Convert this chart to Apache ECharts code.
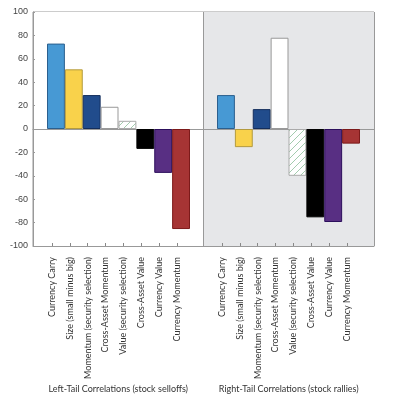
<!DOCTYPE html>
<html>
<head>
<meta charset="utf-8">
<script src="https://cdn.jsdelivr.net/npm/echarts@6/dist/echarts.min.js"></script>
<style>
  html, body { margin: 0; padding: 0; background: #fff; }
  #chart { width: 399px; height: 400px; }
</style>
</head>
<body>
<div id="chart"></div>
<script>
var factors = ['Currency Carry', 'Size (small minus big)', 'Momentum (security selection)', 'Cross-Asset Momentum',
  'Value (security selection)', 'Cross-Asset Value', 'Currency Value', 'Currency Momentum'];
var groups = ['Left-Tail Correlations (stock selloffs)', 'Right-Tail Correlations (stock rallies)'];
var leftTail = [73, 51, 29, 19, 7, -17, -37.5, -85.5];
var rightTail = [29, -15.5, 17, 78, -40, -75.5, -79.5, -12.5];
var yMin = -100, yMax = 100, yStep = 20;

// hatch fill for "Value (security selection)"
var hatch = document.createElement('canvas');
hatch.width = 7; hatch.height = 7;
var hc = hatch.getContext('2d');
hc.fillStyle = '#ffffff';
hc.fillRect(0, 0, 7, 7);
hc.strokeStyle = '#a3ccae';
hc.lineWidth = 1;
hc.beginPath();
hc.moveTo(0, 7); hc.lineTo(7, 0);
hc.moveTo(-1, 1); hc.lineTo(1, -1);
hc.moveTo(6, 8); hc.lineTo(8, 6);
hc.stroke();

var fills = ['#4799d4', '#f9d24b', '#214c8c', '#ffffff', {image: hatch, repeat: 'repeat'}, '#000000', '#582f83', '#a63434'];
var borders = ['#2b5f8e', '#b39a3e', '#142e5c', '#999999', '#aaaaaa', '#000000', '#2c0f5c', '#7c1a1a'];

function items(vals) {
  return vals.map(function (v, i) {
    return {value: v, itemStyle: {color: fills[i], borderColor: borders[i], borderWidth: 1}};
  });
}

// bar axes (no labels)
var barAxis = function (grid) {
  return {
    gridIndex: grid, type: 'category', data: factors, position: 'bottom',
    axisLine: {show: false, onZero: false}, axisTick: {show: false}, axisLabel: {show: false}
  };
};
// label axes, sit a few px left of the bars like the original
var labelAxis = function (grid) {
  return {
    gridIndex: grid, type: 'category', data: factors, position: 'bottom', min: 0, max: factors.length - 1,
    axisLine: {show: false, onZero: false},
    axisTick: {show: true, inside: true, length: 3, alignWithLabel: true, lineStyle: {color: '#888'}},
    axisLabel: {rotate: 90, fontSize: 9, margin: 11, color: '#333', fontFamily: 'Lato', interval: 0}
  };
};

var myChart = echarts.init(document.getElementById('chart'));
var option = {
  animation: false,
  grid: [
    {left: 33, right: 25, top: 12, bottom: 154, show: true, borderColor: '#999', borderWidth: 1, backgroundColor: '#fff'},
    {left: 47, right: 209, top: 12, bottom: 154},
    {left: 217, right: 39, top: 12, bottom: 154},
    {left: 43, right: 213, top: 12, bottom: 154},
    {left: 213, right: 43, top: 12, bottom: 154}
  ],
  xAxis: [
    {
      gridIndex: 0, type: 'category', data: groups, position: 'bottom', min: 0, max: groups.length - 1,
      axisLine: {show: true, onZero: false, lineStyle: {color: '#999'}},
      axisTick: {show: false},
      axisLabel: {margin: 139, fontSize: 9, color: '#333', fontFamily: 'Lato', interval: 0},
      splitLine: {show: true, interval: 0, lineStyle: {color: '#999'}},
      splitArea: {show: true, interval: 0, areaStyle: {color: ['#ffffff', '#e6e7e9']}}
    },
    {
      gridIndex: 0, type: 'category', data: groups, position: 'top', min: 0, max: groups.length - 1,
      axisLine: {show: true, onZero: true, lineStyle: {color: '#999'}},
      axisTick: {show: false}, axisLabel: {show: false}
    },
    barAxis(1),
    barAxis(2),
    labelAxis(3),
    labelAxis(4)
  ],
  yAxis: [
    {
      gridIndex: 0, type: 'value', min: yMin, max: yMax, interval: yStep,
      axisLine: {show: true, lineStyle: {color: '#999'}},
      axisTick: {show: true, inside: true, length: 2, lineStyle: {color: '#999'}},
      splitLine: {show: false},
      axisLabel: {fontSize: 9, color: '#444', margin: 5, fontFamily: 'Liberation Sans'}
    },
    {gridIndex: 1, type: 'value', min: yMin, max: yMax, show: false},
    {gridIndex: 2, type: 'value', min: yMin, max: yMax, show: false},
    {gridIndex: 3, type: 'value', min: yMin, max: yMax, show: false},
    {gridIndex: 4, type: 'value', min: yMin, max: yMax, show: false}
  ],
  series: [
    {type: 'bar', name: groups[0], xAxisIndex: 2, yAxisIndex: 1, barWidth: '100%', data: items(leftTail)},
    {type: 'bar', name: groups[1], xAxisIndex: 3, yAxisIndex: 2, barWidth: '100%', data: items(rightTail)}
  ]
};
myChart.setOption(option);
</script>
</body>
</html>
